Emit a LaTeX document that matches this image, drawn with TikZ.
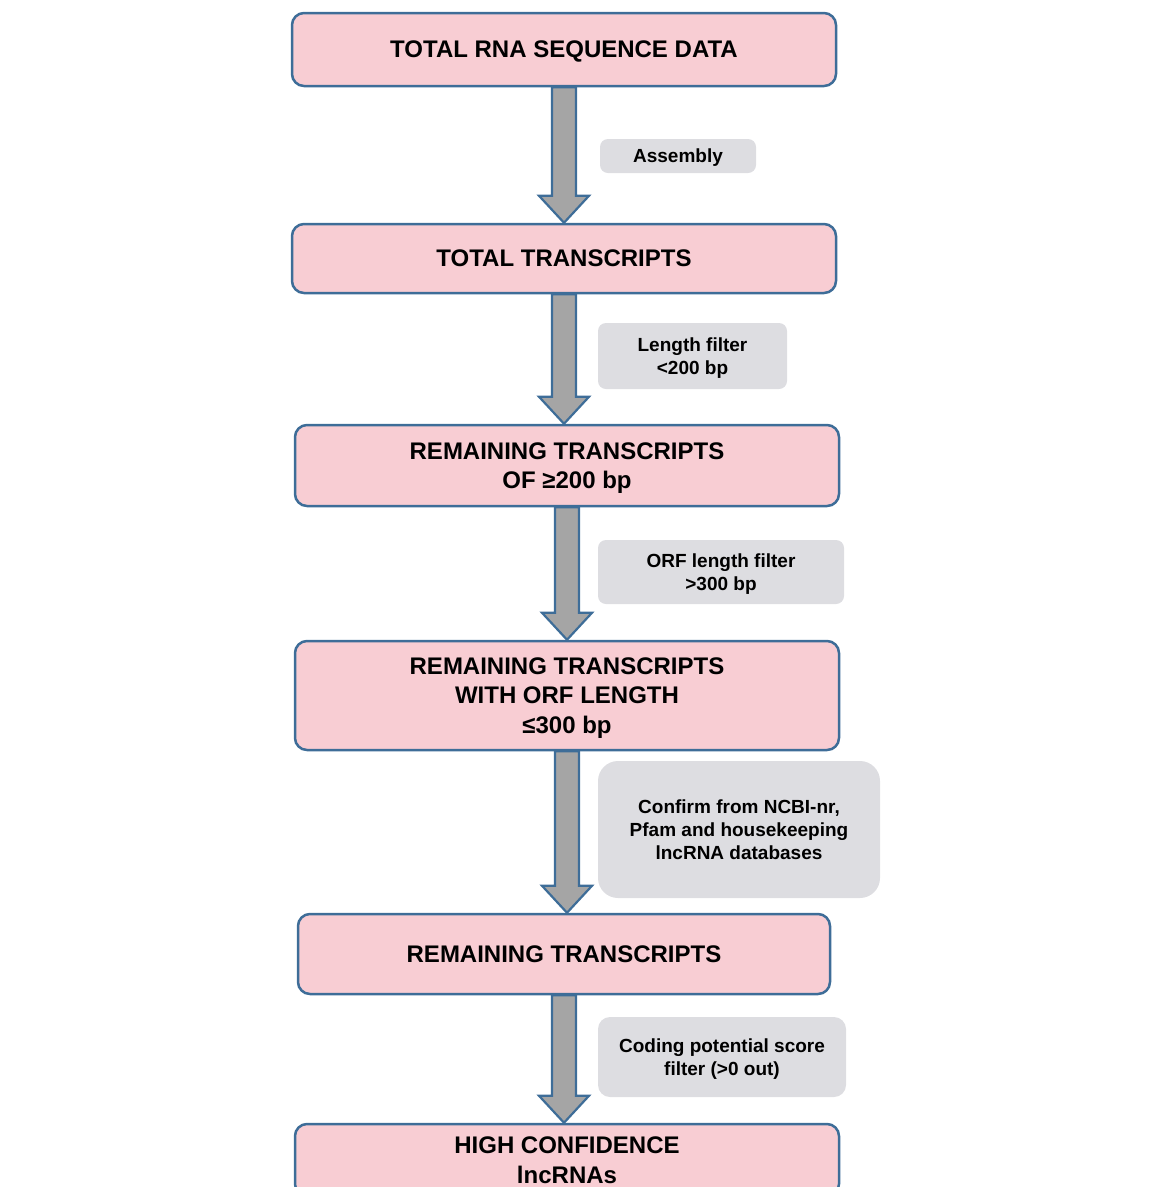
\documentclass[tikz,border=0pt]{standalone}
\usepackage{fontspec}
\setmainfont{Liberation Sans}
\usetikzlibrary{calc}
\definecolor{pinkfill}{HTML}{F8CDD3}
\definecolor{boxline}{HTML}{3E6D98}
\definecolor{labelgray}{HTML}{DDDDE1}
\definecolor{arrowgray}{HTML}{A5A5A5}
\newcommand\flowarrow[2]{%
  \draw[flow] let \p1=(#1.south), \p2=(#2.north) in
    (\x1-12pt,\y1) -- (\x1-12pt,\y2+27pt) -- (\x1-25pt,\y2+27pt) -- (\x1,\y2)
    -- (\x1+25pt,\y2+27pt) -- (\x1+12pt,\y2+27pt) -- (\x1+12pt,\y1) -- cycle;}
\begin{document}
\begin{tikzpicture}[x=1pt,y=-1pt,
  stage/.style={draw=boxline, line width=2.5pt, fill=pinkfill, rounded corners=12pt,
    align=center, font=\fontsize{24}{29.5}\selectfont\bfseries, inner sep=0pt, text=black,
    text depth=0pt},
  tag/.style={fill=labelgray, rounded corners=8pt, align=center,
    font=\fontsize{19}{23}\selectfont\bfseries, inner sep=0pt, text=black, text depth=0pt},
  flow/.style={draw=boxline, line width=2.2pt, fill=arrowgray, line join=miter}]
\useasboundingbox (0,0) rectangle (1150,1187);
\clip (0,0) rectangle (1150,1187);

\node[stage, minimum width=544pt, minimum height=73pt] (b1) at (564,49.5) {TOTAL RNA SEQUENCE DATA};
\node[stage, minimum width=544pt, minimum height=69pt] (b2) at (564,258.5) {TOTAL TRANSCRIPTS};
\node[stage, minimum width=544pt, minimum height=81pt] (b3) at (567,465.5) {REMAINING TRANSCRIPTS\\OF ≥200 bp};
\node[stage, minimum width=544pt, minimum height=109pt] (b4) at (567,695.5) {REMAINING TRANSCRIPTS\\WITH ORF LENGTH\\≤300 bp};
\node[stage, minimum width=532pt, minimum height=80pt] (b5) at (564,954) {REMAINING TRANSCRIPTS};
\node[stage, minimum width=544pt, minimum height=72pt] (b6) at (567,1160) {HIGH CONFIDENCE\\lncRNAs};

\node[tag, minimum width=156pt, minimum height=34pt] (t1) at (678,156) {Assembly};
\node[tag, minimum width=189pt, minimum height=66pt] (t2) at (692.5,356) {Length filter\\<200 bp};
\node[tag, minimum width=246pt, minimum height=64pt] (t3) at (721,572) {ORF length filter\\>300 bp};
\node[tag, minimum width=282pt, minimum height=137pt, rounded corners=20pt] (t4) at (739,829.5) {Confirm from NCBI-nr,\\Pfam and housekeeping\\lncRNA databases};
\node[tag, minimum width=248pt, minimum height=80pt, rounded corners=12pt] (t5) at (722,1057) {Coding potential score\\filter (>0 out)};

\flowarrow{b1}{b2}
\flowarrow{b2}{b3}
\flowarrow{b3}{b4}
\flowarrow{b4}{b5}
\flowarrow{b5}{b6}
\end{tikzpicture}
\end{document}
